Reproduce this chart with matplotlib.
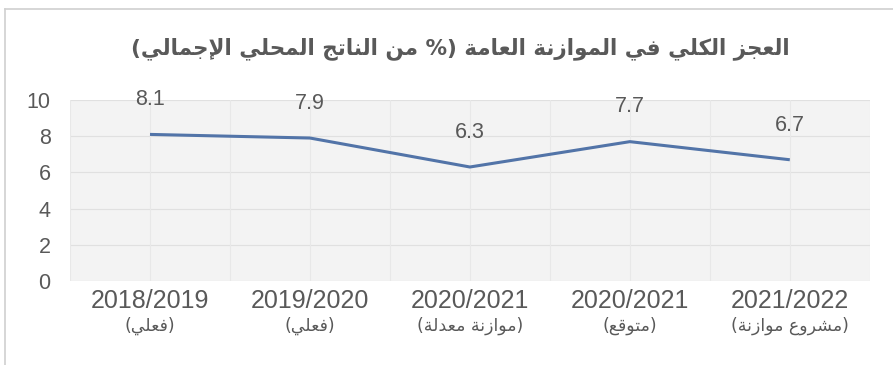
import matplotlib
matplotlib.use("Agg")
import matplotlib.pyplot as plt
from matplotlib.lines import Line2D

# -------------------------------
# Data
# -------------------------------
years = ["2018/2019", "2019/2020", "2020/2021", "2020/2021", "2021/2022"]
notes = ["(فعلي)", "(فعلي)", "(موازنة معدلة)", "(متوقع)", "(مشروع موازنة)"]
deficit = [8.1, 7.9, 6.3, 7.7, 6.7]
yticks = [0, 2, 4, 6, 8, 10]
title = "العجز الكلي في الموازنة العامة (% من الناتج المحلي الإجمالي)"

# -------------------------------
# Minimal Arabic shaping (matplotlib has no complex text layout)
# forms: (isolated, final, initial, medial); 2 forms = joins on the right only
# -------------------------------
FORMS = {
    "ء": ("\ufe80",),
    "آ": ("\ufe81", "\ufe82"), "أ": ("\ufe83", "\ufe84"),
    "إ": ("\ufe87", "\ufe88"), "ا": ("\ufe8d", "\ufe8e"),
    "ب": ("\ufe8f", "\ufe90", "\ufe91", "\ufe92"),
    "ة": ("\ufe93", "\ufe94"),
    "ت": ("\ufe95", "\ufe96", "\ufe97", "\ufe98"),
    "ث": ("\ufe99", "\ufe9a", "\ufe9b", "\ufe9c"),
    "ج": ("\ufe9d", "\ufe9e", "\ufe9f", "\ufea0"),
    "ح": ("\ufea1", "\ufea2", "\ufea3", "\ufea4"),
    "خ": ("\ufea5", "\ufea6", "\ufea7", "\ufea8"),
    "د": ("\ufea9", "\ufeaa"), "ذ": ("\ufeab", "\ufeac"),
    "ر": ("\ufead", "\ufeae"), "ز": ("\ufeaf", "\ufeb0"),
    "س": ("\ufeb1", "\ufeb2", "\ufeb3", "\ufeb4"),
    "ش": ("\ufeb5", "\ufeb6", "\ufeb7", "\ufeb8"),
    "ص": ("\ufeb9", "\ufeba", "\ufebb", "\ufebc"),
    "ض": ("\ufebd", "\ufebe", "\ufebf", "\ufec0"),
    "ط": ("\ufec1", "\ufec2", "\ufec3", "\ufec4"),
    "ظ": ("\ufec5", "\ufec6", "\ufec7", "\ufec8"),
    "ع": ("\ufec9", "\ufeca", "\ufecb", "\ufecc"),
    "غ": ("\ufecd", "\ufece", "\ufecf", "\ufed0"),
    "ف": ("\ufed1", "\ufed2", "\ufed3", "\ufed4"),
    "ق": ("\ufed5", "\ufed6", "\ufed7", "\ufed8"),
    "ك": ("\ufed9", "\ufeda", "\ufedb", "\ufedc"),
    "ل": ("\ufedd", "\ufede", "\ufedf", "\ufee0"),
    "م": ("\ufee1", "\ufee2", "\ufee3", "\ufee4"),
    "ن": ("\ufee5", "\ufee6", "\ufee7", "\ufee8"),
    "ه": ("\ufee9", "\ufeea", "\ufeeb", "\ufeec"),
    "و": ("\ufeed", "\ufeee"), "ى": ("\ufeef", "\ufef0"),
    "ي": ("\ufef1", "\ufef2", "\ufef3", "\ufef4"),
}
LAM_ALEF = {"آ": ("\ufef5", "\ufef6"), "أ": ("\ufef7", "\ufef8"),
            "إ": ("\ufef9", "\ufefa"), "ا": ("\ufefb", "\ufefc")}
MIRROR = {"(": ")", ")": "("}


def shape_arabic(text):
    # tokens: forms tuple for arabic letters, plain char otherwise
    toks = []
    i = 0
    while i < len(text):
        c = text[i]
        if c == "ل" and i + 1 < len(text) and text[i + 1] in LAM_ALEF:
            toks.append(LAM_ALEF[text[i + 1]])
            i += 2
            continue
        toks.append(FORMS.get(c, c))
        i += 1
    out = []
    for k, t in enumerate(toks):
        if isinstance(t, str):
            out.append(t)
            continue
        prev = toks[k - 1] if k > 0 else None
        nxt = toks[k + 1] if k + 1 < len(toks) else None
        jp = isinstance(prev, tuple) and len(prev) == 4 and len(t) > 1
        jn = len(t) == 4 and isinstance(nxt, tuple) and len(nxt) > 1
        if jp and jn:
            out.append(t[3])
        elif jp:
            out.append(t[1])
        elif jn:
            out.append(t[2])
        else:
            out.append(t[0])
    # right-to-left visual order, keep digit runs left-to-right
    vis = [MIRROR.get(c, c) for c in reversed(out)]
    res, run = [], []
    for c in vis:
        if c.isdigit() or (run and c in "./"):
            run.append(c)
        else:
            res.extend(reversed(run))
            run = []
            res.append(c)
    res.extend(reversed(run))
    return "".join(res)


# -------------------------------
# Figure
# -------------------------------
plt.rcParams["font.family"] = ["Liberation Sans", "DejaVu Sans"]
grey = "#595959"

fig = plt.figure(figsize=(8.93, 3.65), dpi=100)
ax = fig.add_axes([0.0784, 0.230, 0.8956, 0.496])
ax.set_facecolor("#f3f3f3")

x = list(range(len(deficit)))
ax.plot(x, deficit, color="#5274a8", lw=2.2, solid_capstyle="butt", zorder=3)
for xi, v in zip(x, deficit):
    ax.annotate(f"{v:.1f}", (xi, v), xytext=(0, 25), textcoords="offset points",
                ha="center", va="center", fontsize=15.5, color=grey)

ax.set_xlim(-0.5, len(deficit) - 0.5)
ax.set_ylim(0, 10)
ax.set_yticks(yticks)
ax.set_yticklabels([str(t) for t in yticks], fontsize=15.5, color=grey)
ax.set_xticks(x)
ax.set_xticklabels(years, fontsize=18, color=grey)
ax.tick_params(length=0, axis="y", pad=14)
ax.tick_params(length=0, axis="x", pad=6)

# faint gridlines
for yv in yticks:
    ax.axhline(yv, color="#e0e0e0", lw=0.8, zorder=1)
for xv in [i * 0.5 - 0.5 for i in range(2 * len(deficit) + 1)]:
    ax.axvline(xv, color="#e8e8e8", lw=0.8, zorder=1)
for s in ax.spines.values():
    s.set_visible(False)

# arabic sub-labels under the years
for xi, n in zip(x, notes):
    ax.annotate(shape_arabic(n), (xi, 0), xycoords=("data", "axes fraction"),
                xytext=(0, -32), textcoords="offset points",
                ha="center", va="center", fontsize=12.5, color=grey,
                family=["DejaVu Sans"])

fig.text(0.515, 0.868, shape_arabic(title), ha="center", va="center",
         fontsize=15.5, fontweight="bold", color=grey, family=["DejaVu Sans"])

# chart frame
fig.add_artist(Line2D([5 / 893, 5 / 893], [0, 1 - 9 / 365], color="#d0d0d0", lw=1.2))
fig.add_artist(Line2D([5 / 893, 1], [1 - 9 / 365, 1 - 9 / 365], color="#d0d0d0", lw=1.2))

fig.savefig("out.png", dpi=100)
